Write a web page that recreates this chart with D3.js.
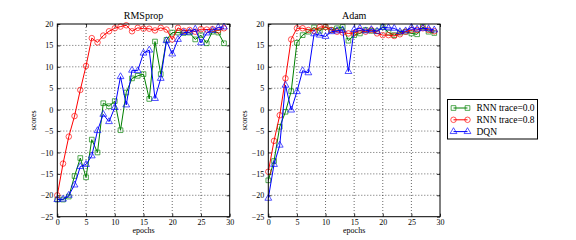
<!DOCTYPE html>
<html lang="en">
<head>
<meta charset="UTF-8">
<title>RMSprop vs Adam</title>
<style type="text/css">
    body { margin: 0; background: #fff; }
    svg { font-family: "Liberation Serif", "DejaVu Serif", serif; }
    text { fill: #000; }
    .frame { fill: none; stroke: #000; stroke-width: 1; }
    .grid line { stroke: #000; stroke-width: 0.6; stroke-dasharray: 1,2; }
    .line { fill: none; stroke-width: 1; }
    .marker { fill: none; stroke-width: 0.9; }
</style>
</head>
<body>
<script src="https://d3js.org/d3.v7.min.js"></script>
<script>

    // epochs 0..29
    var epochs = d3.range(30);

    var xTicks = [0, 5, 10, 15, 20, 25, 30];
    var yTicks = [20, 15, 10, 5, 0, -5, -10, -15, -20, -25];

    var seriesNames = ["RNN trace=0.0", "RNN trace=0.8", "DQN"];

    // RMSprop panel
    var rmsTrace00 = [-21, -21, -20.3, -15.5, -11.3, -15.8, -7.0, -10.0, 1.5, 0.8,
                      2.0, -4.8, 4.0, 7.3, 7.9, 8.3, 2.5, 15.9, 8.3, 16.3,
                      18.0, 18.0, 17.9, 18.0, 16.4, 17.4, 15.5, 18.2, 18.0, 15.5];
    var rmsTrace08 = [-20, -12.6, -6.3, -1.5, 4.6, 10.2, 16.7, 15.7, 17.3, 18.3,
                      19.0, 19.4, 19.7, 18.3, 19.1, 18.9, 18.9, 18.5, 19.1, 18.7,
                      16.4, 19.1, 18.4, 18.6, 18.2, 18.8, 18.7, 18.8, 18.5, 19.0];
    var rmsDqn     = [-21, -20.9, -20.0, -17.6, -13.3, -12.8, -10.8, -4.9, -1.1, -2.8,
                      0.5, 7.7, 1.1, 9.2, 9.1, 13.2, 13.9, 2.6, 7.3, 16.1,
                      13.0, 16.4, 18.0, 18.1, 18.8, 15.6, 17.9, 18.5, 19.2, 19.3];

    // Adam panel
    var adamTrace00 = [-16.5, -12.0, -4.0, -0.5, 4.3, 15.6, 17.4, 18.2, 19.2, 18.4,
                       19.3, 18.6, 19.0, 19.3, 16.1, 17.4, 17.8, 18.6, 18.4, 18.3,
                       19.3, 18.0, 17.4, 18.0, 18.2, 17.8, 17.6, 19.3, 18.2, 17.9];
    var adamTrace08 = [-14.5, -7.3, -1.3, 7.3, 16.4, 19.0, 19.0, 18.6, 18.4, 19.3,
                       19.3, 18.6, 18.2, 18.0, 17.8, 17.9, 18.5, 18.2, 18.6, 17.8,
                       17.4, 17.4, 17.2, 17.6, 18.2, 18.6, 18.6, 19.0, 18.6, 18.3];
    var adamDqn     = [-20.7, -12.8, -8.3, 5.7, -0.1, 4.2, 9.1, 8.6, 17.7, 17.4,
                       17.1, 18.2, 18.4, 18.6, 8.9, 18.7, 19.0, 18.4, 18.7, 18.3,
                       19.2, 19.1, 19.0, 18.2, 18.4, 19.2, 18.8, 19.0, 18.9, 18.6];

    var colors = ["#008000", "#ff0000", "#0000ff"];
    var shapes = [d3.symbolSquare, d3.symbolCircle, d3.symbolTriangle];
    var symSizes = [22, 24, 20];

    var panels = [
        {title: "RMSprop", left: 57.3, right: 229.7, series: [rmsTrace00, rmsTrace08, rmsDqn]},
        {title: "Adam", left: 268.3, right: 440, series: [adamTrace00, adamTrace08, adamDqn]}
    ];

    var plotTop = 24, plotBottom = 216.7;

    var svg = d3.select("body").append("svg")
        .attr("width", 576)
        .attr("height", 240);

    var y = d3.scaleLinear().domain([-25, 20]).range([plotBottom, plotTop]);

    function fmt(v) { return v < 0 ? "\u2212" + Math.abs(v) : "" + v; }

    panels.forEach(function(p) {
        var x = d3.scaleLinear().domain([0, 30]).range([p.left, p.right]);
        var g = svg.append("g");

        // dotted grid
        var grid = g.append("g").attr("class", "grid");
        grid.selectAll(".gx").data(xTicks.slice(1, -1)).enter().append("line")
            .attr("x1", function(d) { return x(d); }).attr("x2", function(d) { return x(d); })
            .attr("y1", plotTop).attr("y2", plotBottom);
        grid.selectAll(".gy").data(yTicks.slice(1, -1)).enter().append("line")
            .attr("y1", function(d) { return y(d); }).attr("y2", function(d) { return y(d); })
            .attr("x1", p.left).attr("x2", p.right);

        // inward ticks on all four sides
        var ax = g.append("g");
        ax.append("g").attr("transform", "translate(0," + plotBottom + ")")
            .call(d3.axisBottom(x).tickValues(xTicks).tickSizeInner(-3).tickSizeOuter(0).tickPadding(3).tickFormat(fmt));
        ax.append("g").attr("transform", "translate(0," + plotTop + ")")
            .call(d3.axisTop(x).tickValues(xTicks).tickSizeInner(-3).tickSizeOuter(0).tickFormat(""));
        ax.append("g").attr("transform", "translate(" + p.left + ",0)")
            .call(d3.axisLeft(y).tickValues(yTicks).tickSizeInner(-3).tickSizeOuter(0).tickPadding(4).tickFormat(fmt));
        ax.append("g").attr("transform", "translate(" + p.right + ",0)")
            .call(d3.axisRight(y).tickValues(yTicks).tickSizeInner(-3).tickSizeOuter(0).tickFormat(""));
        ax.selectAll(".domain").remove();
        ax.selectAll(".tick line").attr("stroke", "#000").attr("stroke-width", 0.8);
        ax.selectAll(".tick text").attr("fill", "#000")
            .style("font-family", "Liberation Serif, serif").style("font-size", "8px");

        // lines + markers
        p.series.forEach(function(vals, k) {
            var line = d3.line()
                .x(function(d, i) { return x(epochs[i]); })
                .y(function(d) { return y(d); });
            g.append("path").datum(vals)
                .attr("class", "line")
                .attr("stroke", colors[k])
                .attr("d", line);
            g.selectAll(".m" + k).data(vals).enter().append("path")
                .attr("class", "marker")
                .attr("stroke", colors[k])
                .attr("stroke-opacity", 0.75)
                .attr("d", d3.symbol().type(shapes[k]).size(symSizes[k]))
                .attr("transform", function(d, i) { return "translate(" + x(epochs[i]) + "," + y(d) + ")"; });
        });

        g.append("rect").attr("class", "frame")
            .attr("x", p.left).attr("y", plotTop)
            .attr("width", p.right - p.left).attr("height", plotBottom - plotTop);

        var cx = (p.left + p.right) / 2;
        g.append("text").attr("x", cx).attr("y", 19)
            .attr("text-anchor", "middle").style("font-size", "10px").text(p.title);
        g.append("text").attr("x", cx).attr("y", 233)
            .attr("text-anchor", "middle").style("font-size", "8px").text("epochs");
        g.append("text")
            .attr("transform", "translate(" + (p.left - 21) + "," + ((plotTop + plotBottom) / 2) + ") rotate(-90)")
            .attr("text-anchor", "middle").style("font-size", "8px").text("scores");
    });

    // legend
    var lg = svg.append("g").attr("transform", "translate(447.5,99.5)");
    lg.append("rect").attr("width", 90).attr("height", 39.5)
        .attr("fill", "#fff").attr("stroke", "#000").attr("stroke-width", 1);
    seriesNames.forEach(function(name, k) {
        var ly = 8.5 + k * 11.8;
        lg.append("line").attr("x1", 6).attr("x2", 20).attr("y1", ly).attr("y2", ly)
            .attr("stroke", colors[k]).attr("stroke-width", 1);
        [6, 20].forEach(function(mx) {
            lg.append("path").attr("class", "marker")
                .attr("stroke", colors[k]).attr("stroke-opacity", 0.75)
                .attr("d", d3.symbol().type(shapes[k]).size(symSizes[k]))
                .attr("transform", "translate(" + mx + "," + ly + ")");
        });
        lg.append("text").attr("x", 29).attr("y", ly + 3)
            .style("font-size", "9.5px").text(name);
    });
</script>
</body>
</html>
